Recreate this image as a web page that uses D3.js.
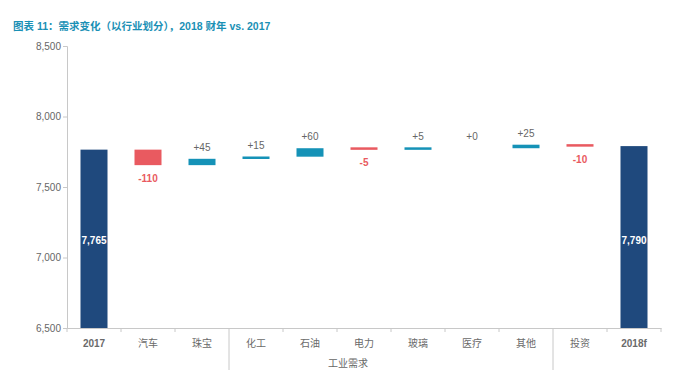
<!DOCTYPE html>
<html><head><meta charset="utf-8">
<script src="https://cdn.jsdelivr.net/npm/d3@7"></script>
<style>body{margin:0;background:#fff}svg{display:block}</style>
</head><body>
<svg id="c" width="673" height="379"></svg>
<script>
const title = "图表 11：需求变化（以行业划分），2018 财年 vs. 2017";
const categories = ["2017","汽车","珠宝","化工","石油","电力","玻璃","医疗","其他","投资","2018f"];
const changes = [7765,-110,45,15,60,-5,5,0,25,-10,7790];
const kinds = ["total","delta","delta","delta","delta","delta","delta","delta","delta","delta","total"];
const yTicks = [6500,7000,7500,8000,8500];
const groupLabel = "工业需求";

(function () {
const svg = d3.select("#c");
const font = "Arial, 'Liberation Sans', 'Noto Sans CJK SC', sans-serif";
const mLeft = 67, mRight = 661, mTop = 46, mBottom = 328;
const x = d3.scaleBand().domain(categories).range([mLeft, mRight]).paddingInner(0).paddingOuter(0);
const y = d3.scaleLinear().domain([6500, 8500]).range([mBottom, mTop]);

svg.append("text").attr("x", 13).attr("y", 30).text(title)
  .attr("font-family", font).attr("font-size", 10.5).attr("font-weight", "bold").attr("fill", "#1a90b5");

let run = 0;
const bars = categories.map((c, i) => {
  if (kinds[i] === "total") { run = changes[i]; return {c, v: changes[i], y0: 6500, y1: changes[i], kind: "total"}; }
  const s = run; run += changes[i];
  return {c, v: changes[i], y0: Math.min(s, run), y1: Math.max(s, run), kind: changes[i] < 0 ? "neg" : "pos"};
});
const color = {total: "#1f497d", pos: "#1592b7", neg: "#e95a60"};

const ya = svg.append("g").attr("transform", `translate(${mLeft},0)`)
  .call(d3.axisLeft(y).tickValues(yTicks).tickFormat(d3.format(",")).tickSizeOuter(0).tickSize(4));
ya.select(".domain").attr("stroke", "#c8c8c8");
ya.selectAll(".tick line").attr("stroke", "#c8c8c8");
ya.selectAll(".tick text").attr("font-family", font).attr("font-size", 10).attr("fill", "#666").attr("x", -6);

const xa = svg.append("g").attr("transform", `translate(0,${mBottom})`)
  .call(d3.axisBottom(x).tickSize(0).tickFormat(""));
xa.select(".domain").attr("stroke", "#c8c8c8");
const bounds = categories.map(c => x(c)).concat([mRight]);
svg.append("g").selectAll("line").data(bounds).join("line")
  .attr("x1", d => d).attr("x2", d => d).attr("y1", mBottom)
  .attr("y2", (d, i) => (i === 3 || i === 9) ? 370 : mBottom + 4)
  .attr("stroke", "#c8c8c8");
svg.append("g").selectAll("text").data(categories).join("text")
  .attr("x", d => x(d) + x.bandwidth() / 2).attr("y", 347).attr("text-anchor", "middle")
  .attr("font-family", font).attr("font-size", 10).attr("fill", "#6a6a6a")
  .attr("font-weight", (d, i) => kinds[i] === "total" ? "bold" : "normal").text(d => d);
svg.append("text").attr("x", 348).attr("y", 367).attr("text-anchor", "middle")
  .attr("font-family", font).attr("font-size", 10).attr("fill", "#666").text(groupLabel);

const bw = x.bandwidth() * 0.5;
svg.append("g").selectAll("rect").data(bars).join("rect")
  .attr("x", d => x(d.c) + (x.bandwidth() - bw) / 2)
  .attr("width", bw)
  .attr("y", d => { const h = y(d.y0) - y(d.y1); return h < 2.5 ? (y(d.y1) + y(d.y0)) / 2 - 1.25 : y(d.y1); })
  .attr("height", d => { const h = y(d.y0) - y(d.y1); return d.v === 0 ? 0 : Math.max(h, 2.5); })
  .attr("fill", d => color[d.kind]);

const fmt = d3.format(",");
svg.append("g").selectAll("text").data(bars).join("text")
  .attr("x", d => x(d.c) + x.bandwidth() / 2)
  .attr("y", d => d.kind === "total" ? 244 : d.kind === "neg" ? y(d.y0) + 17 : y(d.y1) - 8)
  .attr("text-anchor", "middle").attr("font-family", font).attr("font-size", 10)
  .attr("font-weight", d => d.kind === "pos" ? "normal" : "bold")
  .attr("fill", d => d.kind === "total" ? "#fff" : d.kind === "neg" ? "#e95a60" : "#666")
  .text(d => d.kind === "total" ? fmt(d.v) : d.kind === "neg" ? String(d.v) : "+" + d.v);
})();
</script>
</body></html>
